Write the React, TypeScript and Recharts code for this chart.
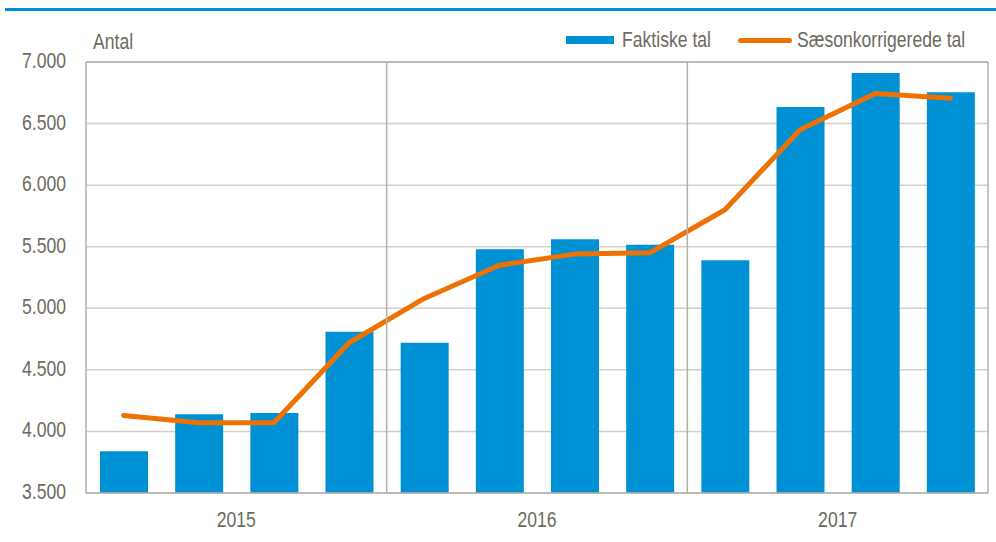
import {
  ComposedChart,
  Bar,
  Line,
  XAxis,
  YAxis,
  CartesianGrid,
  ReferenceLine,
} from "recharts";

const quarters = [
  "2015K1", "2015K2", "2015K3", "2015K4",
  "2016K1", "2016K2", "2016K3", "2016K4",
  "2017K1", "2017K2", "2017K3", "2017K4",
];
const faktiske = [3840, 4140, 4150, 4810, 4720, 5480, 5560, 5515, 5390, 6635, 6910, 6755];
const saesonkorrigerede = [4130, 4070, 4070, 4720, 5080, 5350, 5440, 5450, 5800, 6450, 6745, 6705];
const years = ["2015", "2016", "2017"];
const yTicks = [3500, 4000, 4500, 5000, 5500, 6000, 6500, 7000];

// the original uses a condensed sans; squeeze Liberation Sans horizontally to match
const FONT = '"Liberation Sans", Arial, sans-serif';
const FS = 22;
const SQUEEZE = 0.8;
const TEXT = "#6d6b60";
const GRID = "#d2d0c8";
const FRAME = "#b3b1a6";
const BLUE = "#0091d5";
const ORANGE = "#ee7203";

const fmt = (v: number) => v.toLocaleString("en-US").replace(/,/g, ".");

function NarrowTick(props: any) {
  const { x, y, payload, textAnchor, dy, formatter } = props;
  return (
    <text
      transform={`translate(${x},${y}) scale(${SQUEEZE},1)`}
      x={0}
      y={0}
      dy={dy}
      textAnchor={textAnchor}
      fill={TEXT}
      fontSize={FS}
      fontFamily={FONT}
    >
      {formatter(payload.value)}
    </text>
  );
}

const narrowText = (left: number, top: number) => ({
  position: "absolute" as const,
  left,
  top,
  fontSize: FS,
  color: TEXT,
  whiteSpace: "nowrap" as const,
  transform: `scaleX(${SQUEEZE})`,
  transformOrigin: "left top",
  lineHeight: "normal",
});

export default function App() {
  // quarters sit at half steps on a numeric axis so years can be labelled between them
  const data = quarters.map((q, i) => ({
    q,
    pos: i + 0.5,
    faktiske: faktiske[i],
    saeson: saesonkorrigerede[i],
  }));
  const n = quarters.length;
  const perYear = n / years.length;
  const yearCenters = years.map((_, i) => i * perYear + perYear / 2);
  const yearBounds = years.map((_, i) => (i + 1) * perYear);
  const yearLabel = (v: number) => years[yearCenters.indexOf(v)] ?? "";

  return (
    <div
      style={{
        position: "fixed",
        left: 0,
        top: 0,
        width: 996,
        height: 542,
        background: "#fff",
        fontFamily: FONT,
      }}
    >
      {/* header rule */}
      <div style={{ position: "absolute", left: 5, top: 8, width: 991, height: 3, background: BLUE }} />

      {/* unit label and legend */}
      <div style={narrowText(93, 29)}>Antal</div>
      <div style={{ position: "absolute", left: 566, top: 36, width: 48, height: 8, background: BLUE }} />
      <div style={narrowText(622, 27)}>Faktiske tal</div>
      <div
        style={{
          position: "absolute",
          left: 738,
          top: 38,
          width: 54,
          height: 5,
          borderRadius: 3,
          background: ORANGE,
        }}
      />
      <div style={narrowText(797, 27)}>Sæsonkorrigerede tal</div>

      <div style={{ position: "absolute", left: 0, top: 0 }}>
        <ComposedChart
          width={996}
          height={542}
          data={data}
          margin={{ top: 62, right: 8, bottom: 0, left: 0 }}
        >
          <CartesianGrid vertical={false} stroke={GRID} strokeWidth={1.5} />
          <XAxis
            dataKey="pos"
            type="number"
            domain={[0, n]}
            allowDataOverflow
            ticks={yearCenters}
            height={49}
            axisLine={{ stroke: FRAME, strokeWidth: 1.5 }}
            tickLine={false}
            tickSize={6}
            tickMargin={12}
            tick={<NarrowTick formatter={yearLabel} dy={FS * 0.71} />}
          />
          <YAxis
            domain={[3500, 7000]}
            ticks={yTicks}
            width={86}
            axisLine={{ stroke: FRAME, strokeWidth: 1.5 }}
            tickLine={false}
            tickSize={6}
            tickMargin={14}
            tick={<NarrowTick formatter={fmt} dy={6} />}
            allowDataOverflow
          />
          <Bar dataKey="faktiske" fill={BLUE} barSize={48} isAnimationActive={false} />
          <Line
            dataKey="saeson"
            type="linear"
            stroke={ORANGE}
            strokeWidth={5}
            strokeLinecap="round"
            strokeLinejoin="round"
            dot={false}
            activeDot={false}
            isAnimationActive={false}
          />
          {yearBounds.map((b) => (
            <ReferenceLine key={b} x={b} stroke={FRAME} strokeWidth={1.5} />
          ))}
          <ReferenceLine y={7000} stroke={FRAME} strokeWidth={1.5} />
        </ComposedChart>
      </div>
    </div>
  );
}
